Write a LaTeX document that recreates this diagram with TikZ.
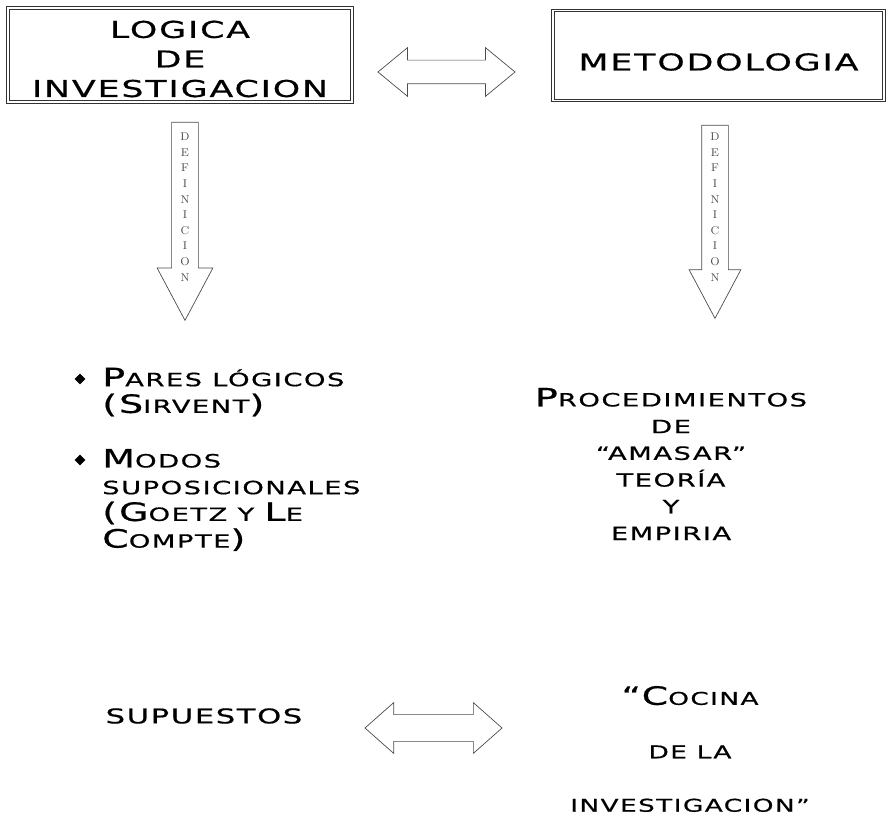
\documentclass[tikz,border=0pt]{standalone}
\usepackage{fontspec}
\usetikzlibrary{shapes.arrows,shapes.geometric}
\newfontfamily\cpfont[FakeStretch=1.5,LetterSpace=8,FakeBold=0.6]{DejaVu Sans}
\newcommand{\Ini}[1]{{\fontsize{18}{19}\selectfont #1}}

\tikzset{
  titlebox/.style={draw=black!80, double, double distance=1.3pt, line width=0.7pt,
    inner sep=0pt},
  titletxt/.style={font=\cpfont\fontsize{16.5}{21}\selectfont, align=center, inner sep=0pt},
  smalltxt/.style={font=\cpfont\fontsize{13}{19}\selectfont, inner sep=0pt},
  dblarrow/.style={double arrow, draw=black!70, line width=0.5pt, inner xsep=0pt},
  downarrow/.style={single arrow, draw=black!70, line width=0.5pt, inner xsep=0pt,
    rotate=-90, anchor=tail},
  defletters/.style={font=\rmfamily\fontsize{8}{11.1}\selectfont, text=black!70,
    align=center, inner sep=0pt},
  bullet/.style={diamond, fill=black, inner sep=0pt, minimum size=0.27cm}
}

\begin{document}
\begin{tikzpicture}[x=0.025cm, y=-0.025cm]
\useasboundingbox (0,0) rectangle (890,820);

% title boxes
\node (logica) at (180,55) [titlebox, minimum width=8.6cm, minimum height=2.35cm] {};
\node (logicatxt) at (180,59) [titletxt] {LOGICA\\DE\\INVESTIGACION};
\node (metodo) at (718.5,55.5) [titlebox, minimum width=8.275cm, minimum height=2.25cm] {};
\node (metodotxt) at (718.5,62) [titletxt] {METODOLOGIA};

\node (enlace) at (446.5,72) [dblarrow, minimum height=3.425cm, minimum width=1.2cm,
  inner ysep=0.2875cm, double arrow head extend=0.3125cm, double arrow tip angle=79] {};

% definicion arrows
\node (defizq) at (185,122) [downarrow, minimum height=4.95cm, minimum width=1.375cm,
  inner ysep=0.325cm, single arrow head extend=0.3625cm, single arrow tip angle=56] {};
\node (defder) at (715,125) [downarrow, minimum height=4.825cm, minimum width=1.275cm,
  inner ysep=0.325cm, single arrow head extend=0.3125cm, single arrow tip angle=56] {};
\node (letizq) at (185,207) [defletters] {D\\E\\F\\I\\N\\I\\C\\I\\O\\N};
\node (letder) at (715,207) [defletters] {D\\E\\F\\I\\N\\I\\C\\I\\O\\N};

\node (b1) at (80,379) [bullet] {};
\node (b2) at (80,460) [bullet] {};
\node (pares) at (102,392) [smalltxt, anchor=west, align=left]
  {\Ini{P}ARES LÓGICOS\\\Ini{(S}IRVENT\Ini{)}};
\node (modos) at (102,500) [smalltxt, anchor=west, align=left]
  {\Ini{M}ODOS\\SUPOSICIONALES\\\Ini{(G}OETZ Y \Ini{L}E\\\Ini{C}OMPTE\Ini{)}};

\node (proced) at (671,464) [smalltxt, align=center]
  {\Ini{P}ROCEDIMIENTOS\\DE\\“AMASAR”\\TEORÍA\\Y\\EMPIRIA};

\node (supuestos) at (204,716) [smalltxt, font=\cpfont\fontsize{14.5}{19}\selectfont]
  {SUPUESTOS};
\node (enlace2) at (433.5,728) [dblarrow, minimum height=3.425cm, minimum width=1.25cm,
  inner ysep=0.325cm, double arrow head extend=0.3cm, double arrow tip angle=83] {};
\node (cocina) at (690,749) [smalltxt, align=center, font=\cpfont\fontsize{12.5}{38}\selectfont]
  {\Ini{“C}OCINA\\DE LA\\INVESTIGACION”};

\end{tikzpicture}
\end{document}
